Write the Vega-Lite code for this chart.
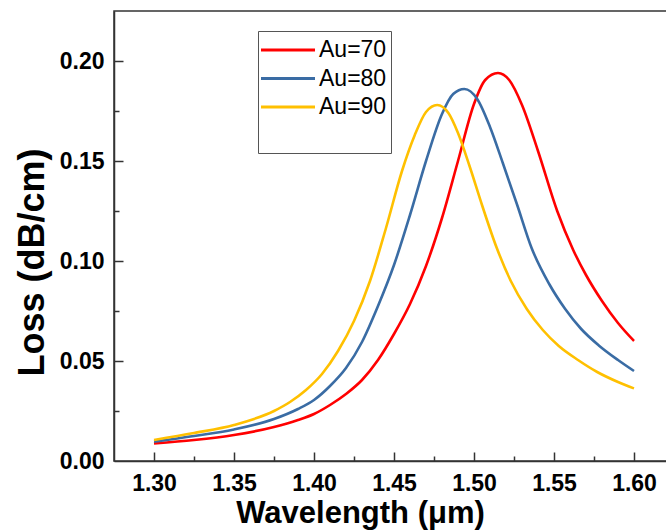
{
  "$schema": "https://vega.github.io/schema/vega-lite/v6.json",
  "width": 554,
  "height": 450,
  "autosize": {"type": "none"},
  "padding": {"left": 114, "top": 11, "right": 0, "bottom": 69},
  "background": "white",
  "config": {"view": {"stroke": "#333333", "strokeWidth": 1.5}, "font": "Liberation Sans"},
  "data": {"values": [
    {"s":"Au=70","wl":1.300,"loss":0.0088},{"s":"Au=70","wl":1.325,"loss":0.0105},{"s":"Au=70","wl":1.350,"loss":0.0130},{"s":"Au=70","wl":1.375,"loss":0.0170},{"s":"Au=70","wl":1.390,"loss":0.0205},{"s":"Au=70","wl":1.400,"loss":0.0235},{"s":"Au=70","wl":1.410,"loss":0.0280},{"s":"Au=70","wl":1.420,"loss":0.0335},{"s":"Au=70","wl":1.430,"loss":0.0405},{"s":"Au=70","wl":1.440,"loss":0.0505},{"s":"Au=70","wl":1.450,"loss":0.0635},{"s":"Au=70","wl":1.460,"loss":0.0785},{"s":"Au=70","wl":1.470,"loss":0.0975},{"s":"Au=70","wl":1.480,"loss":0.1215},{"s":"Au=70","wl":1.490,"loss":0.1500},{"s":"Au=70","wl":1.500,"loss":0.1785},{"s":"Au=70","wl":1.507,"loss":0.1905},{"s":"Au=70","wl":1.515,"loss":0.1940},{"s":"Au=70","wl":1.522,"loss":0.1905},{"s":"Au=70","wl":1.530,"loss":0.1780},{"s":"Au=70","wl":1.540,"loss":0.1550},{"s":"Au=70","wl":1.552,"loss":0.1250},{"s":"Au=70","wl":1.562,"loss":0.1055},{"s":"Au=70","wl":1.570,"loss":0.0930},{"s":"Au=70","wl":1.580,"loss":0.0800},{"s":"Au=70","wl":1.590,"loss":0.0690},{"s":"Au=70","wl":1.600,"loss":0.0600},
    {"s":"Au=80","wl":1.300,"loss":0.0097},{"s":"Au=80","wl":1.325,"loss":0.0125},{"s":"Au=80","wl":1.350,"loss":0.0158},{"s":"Au=80","wl":1.375,"loss":0.0210},{"s":"Au=80","wl":1.390,"loss":0.0260},{"s":"Au=80","wl":1.400,"loss":0.0305},{"s":"Au=80","wl":1.410,"loss":0.0375},{"s":"Au=80","wl":1.420,"loss":0.0465},{"s":"Au=80","wl":1.430,"loss":0.0595},{"s":"Au=80","wl":1.440,"loss":0.0775},{"s":"Au=80","wl":1.450,"loss":0.0980},{"s":"Au=80","wl":1.460,"loss":0.1230},{"s":"Au=80","wl":1.470,"loss":0.1500},{"s":"Au=80","wl":1.480,"loss":0.1735},{"s":"Au=80","wl":1.487,"loss":0.1835},{"s":"Au=80","wl":1.494,"loss":0.1860},{"s":"Au=80","wl":1.502,"loss":0.1810},{"s":"Au=80","wl":1.510,"loss":0.1670},{"s":"Au=80","wl":1.518,"loss":0.1490},{"s":"Au=80","wl":1.527,"loss":0.1280},{"s":"Au=80","wl":1.536,"loss":0.1065},{"s":"Au=80","wl":1.547,"loss":0.0885},{"s":"Au=80","wl":1.557,"loss":0.0760},{"s":"Au=80","wl":1.567,"loss":0.0660},{"s":"Au=80","wl":1.578,"loss":0.0578},{"s":"Au=80","wl":1.590,"loss":0.0505},{"s":"Au=80","wl":1.600,"loss":0.0450},
    {"s":"Au=90","wl":1.300,"loss":0.0105},{"s":"Au=90","wl":1.325,"loss":0.0140},{"s":"Au=90","wl":1.350,"loss":0.0180},{"s":"Au=90","wl":1.375,"loss":0.0250},{"s":"Au=90","wl":1.385,"loss":0.0295},{"s":"Au=90","wl":1.395,"loss":0.0355},{"s":"Au=90","wl":1.405,"loss":0.0435},{"s":"Au=90","wl":1.415,"loss":0.0550},{"s":"Au=90","wl":1.425,"loss":0.0700},{"s":"Au=90","wl":1.435,"loss":0.0900},{"s":"Au=90","wl":1.445,"loss":0.1165},{"s":"Au=90","wl":1.455,"loss":0.1450},{"s":"Au=90","wl":1.463,"loss":0.1630},{"s":"Au=90","wl":1.470,"loss":0.1745},{"s":"Au=90","wl":1.477,"loss":0.1780},{"s":"Au=90","wl":1.484,"loss":0.1740},{"s":"Au=90","wl":1.490,"loss":0.1640},{"s":"Au=90","wl":1.497,"loss":0.1480},{"s":"Au=90","wl":1.505,"loss":0.1280},{"s":"Au=90","wl":1.514,"loss":0.1070},{"s":"Au=90","wl":1.523,"loss":0.0900},{"s":"Au=90","wl":1.533,"loss":0.0760},{"s":"Au=90","wl":1.543,"loss":0.0655},{"s":"Au=90","wl":1.553,"loss":0.0575},{"s":"Au=90","wl":1.565,"loss":0.0505},{"s":"Au=90","wl":1.577,"loss":0.0445},{"s":"Au=90","wl":1.590,"loss":0.0395},{"s":"Au=90","wl":1.600,"loss":0.0363}
  ]},
  "resolve": {"axis": {"x": "independent", "y": "independent"}},
  "layer": [
    {
      "mark": {"type": "line", "strokeWidth": 2.6, "interpolate": "monotone", "clip": true},
      "encoding": {
        "x": {
          "field": "wl", "type": "quantitative",
          "scale": {"domain": [1.275, 1.62125], "nice": false, "zero": false},
          "axis": {
            "orient": "bottom",
            "values": [1.3,1.35,1.4,1.45,1.5,1.55,1.6],
            "format": ".2f",
            "ticks": false,
            "domainColor": "#333333", "domainWidth": 1.5,
            "grid": false,
            "labelFontSize": 23, "labelFontWeight": "bold", "labelColor": "#000000", "labelFont": "Liberation Sans",
            "labelPadding": 11, "labelFlush": false, "labelOverlap": false,
            "title": "Wavelength (μm)", "titleFontSize": 31, "titleFontWeight": "bold", "titleColor": "#000000", "titleFont": "Liberation Sans",
            "titleX": 246, "titleY": 61, "titleAlign": "center", "titleBaseline": "alphabetic"
          }
        },
        "y": {
          "field": "loss", "type": "quantitative",
          "scale": {"domain": [0, 0.225], "nice": false, "zero": true},
          "axis": {
            "orient": "left",
            "values": [0,0.05,0.1,0.15,0.2],
            "format": ".2f",
            "ticks": false,
            "domainColor": "#333333", "domainWidth": 1.5,
            "grid": false,
            "labelFontSize": 23, "labelFontWeight": "bold", "labelColor": "#000000", "labelFont": "Liberation Sans",
            "labelPadding": 10, "labelFlush": false, "labelOverlap": false,
            "title": "Loss (dB/cm)", "titleFontSize": 36, "titleFontWeight": "bold", "titleColor": "#000000", "titleFont": "Liberation Sans",
            "titleX": -71, "titleY": 251, "titleAlign": "center", "titleBaseline": "alphabetic", "titleAngle": 270
          }
        },
        "color": {
          "field": "s", "type": "nominal",
          "scale": {"domain": ["Au=70","Au=80","Au=90"], "range": ["#FF0000","#3A6CA4","#FFC000"]},
          "legend": {
            "orient": "none", "legendX": 144, "legendY": 20,
            "title": " ", "titleOrient": "bottom", "titleFontSize": 25,
            "symbolType": "M-2,0H2", "symbolSize": 729, "symbolStrokeWidth": 3, "symbolOffset": 11,
            "labelFontSize": 23, "labelFont": "Liberation Sans", "labelFontWeight": "normal", "labelColor": "#000000",
            "labelOffset": 16, "rowPadding": 1.5, "padding": 4, "strokeColor": "#555555", "fillColor": "#ffffff"
          }
        }
      }
    },
    {
      "mark": {"type": "point", "opacity": 0},
      "encoding": {
        "x": {
          "field": "wl", "type": "quantitative",
          "axis": {"orient": "top", "offset": -450, "values": [1.3,1.35,1.4,1.45,1.5,1.55,1.6], "ticks": true, "tickSize": 9, "tickWidth": 1.5, "tickColor": "#333333", "domain": false, "labels": false, "grid": false, "title": null}
        },
        "y": {
          "field": "loss", "type": "quantitative",
          "axis": {"orient": "right", "offset": -554, "values": [0.05,0.1,0.15,0.2], "ticks": true, "tickSize": 9, "tickWidth": 1.5, "tickColor": "#333333", "domain": false, "labels": false, "grid": false, "title": null}
        }
      }
    },
    {
      "mark": {"type": "point", "opacity": 0},
      "encoding": {
        "x": {
          "field": "wl", "type": "quantitative",
          "axis": {"orient": "top", "offset": -450, "values": [1.325,1.375,1.425,1.475,1.525,1.575], "ticks": true, "tickSize": 5, "tickWidth": 1.5, "tickColor": "#333333", "domain": false, "labels": false, "grid": false, "title": null}
        },
        "y": {
          "field": "loss", "type": "quantitative",
          "axis": {"orient": "right", "offset": -554, "values": [0.025,0.075,0.125,0.175], "ticks": true, "tickSize": 5, "tickWidth": 1.5, "tickColor": "#333333", "domain": false, "labels": false, "grid": false, "title": null}
        }
      }
    }
  ]
}
